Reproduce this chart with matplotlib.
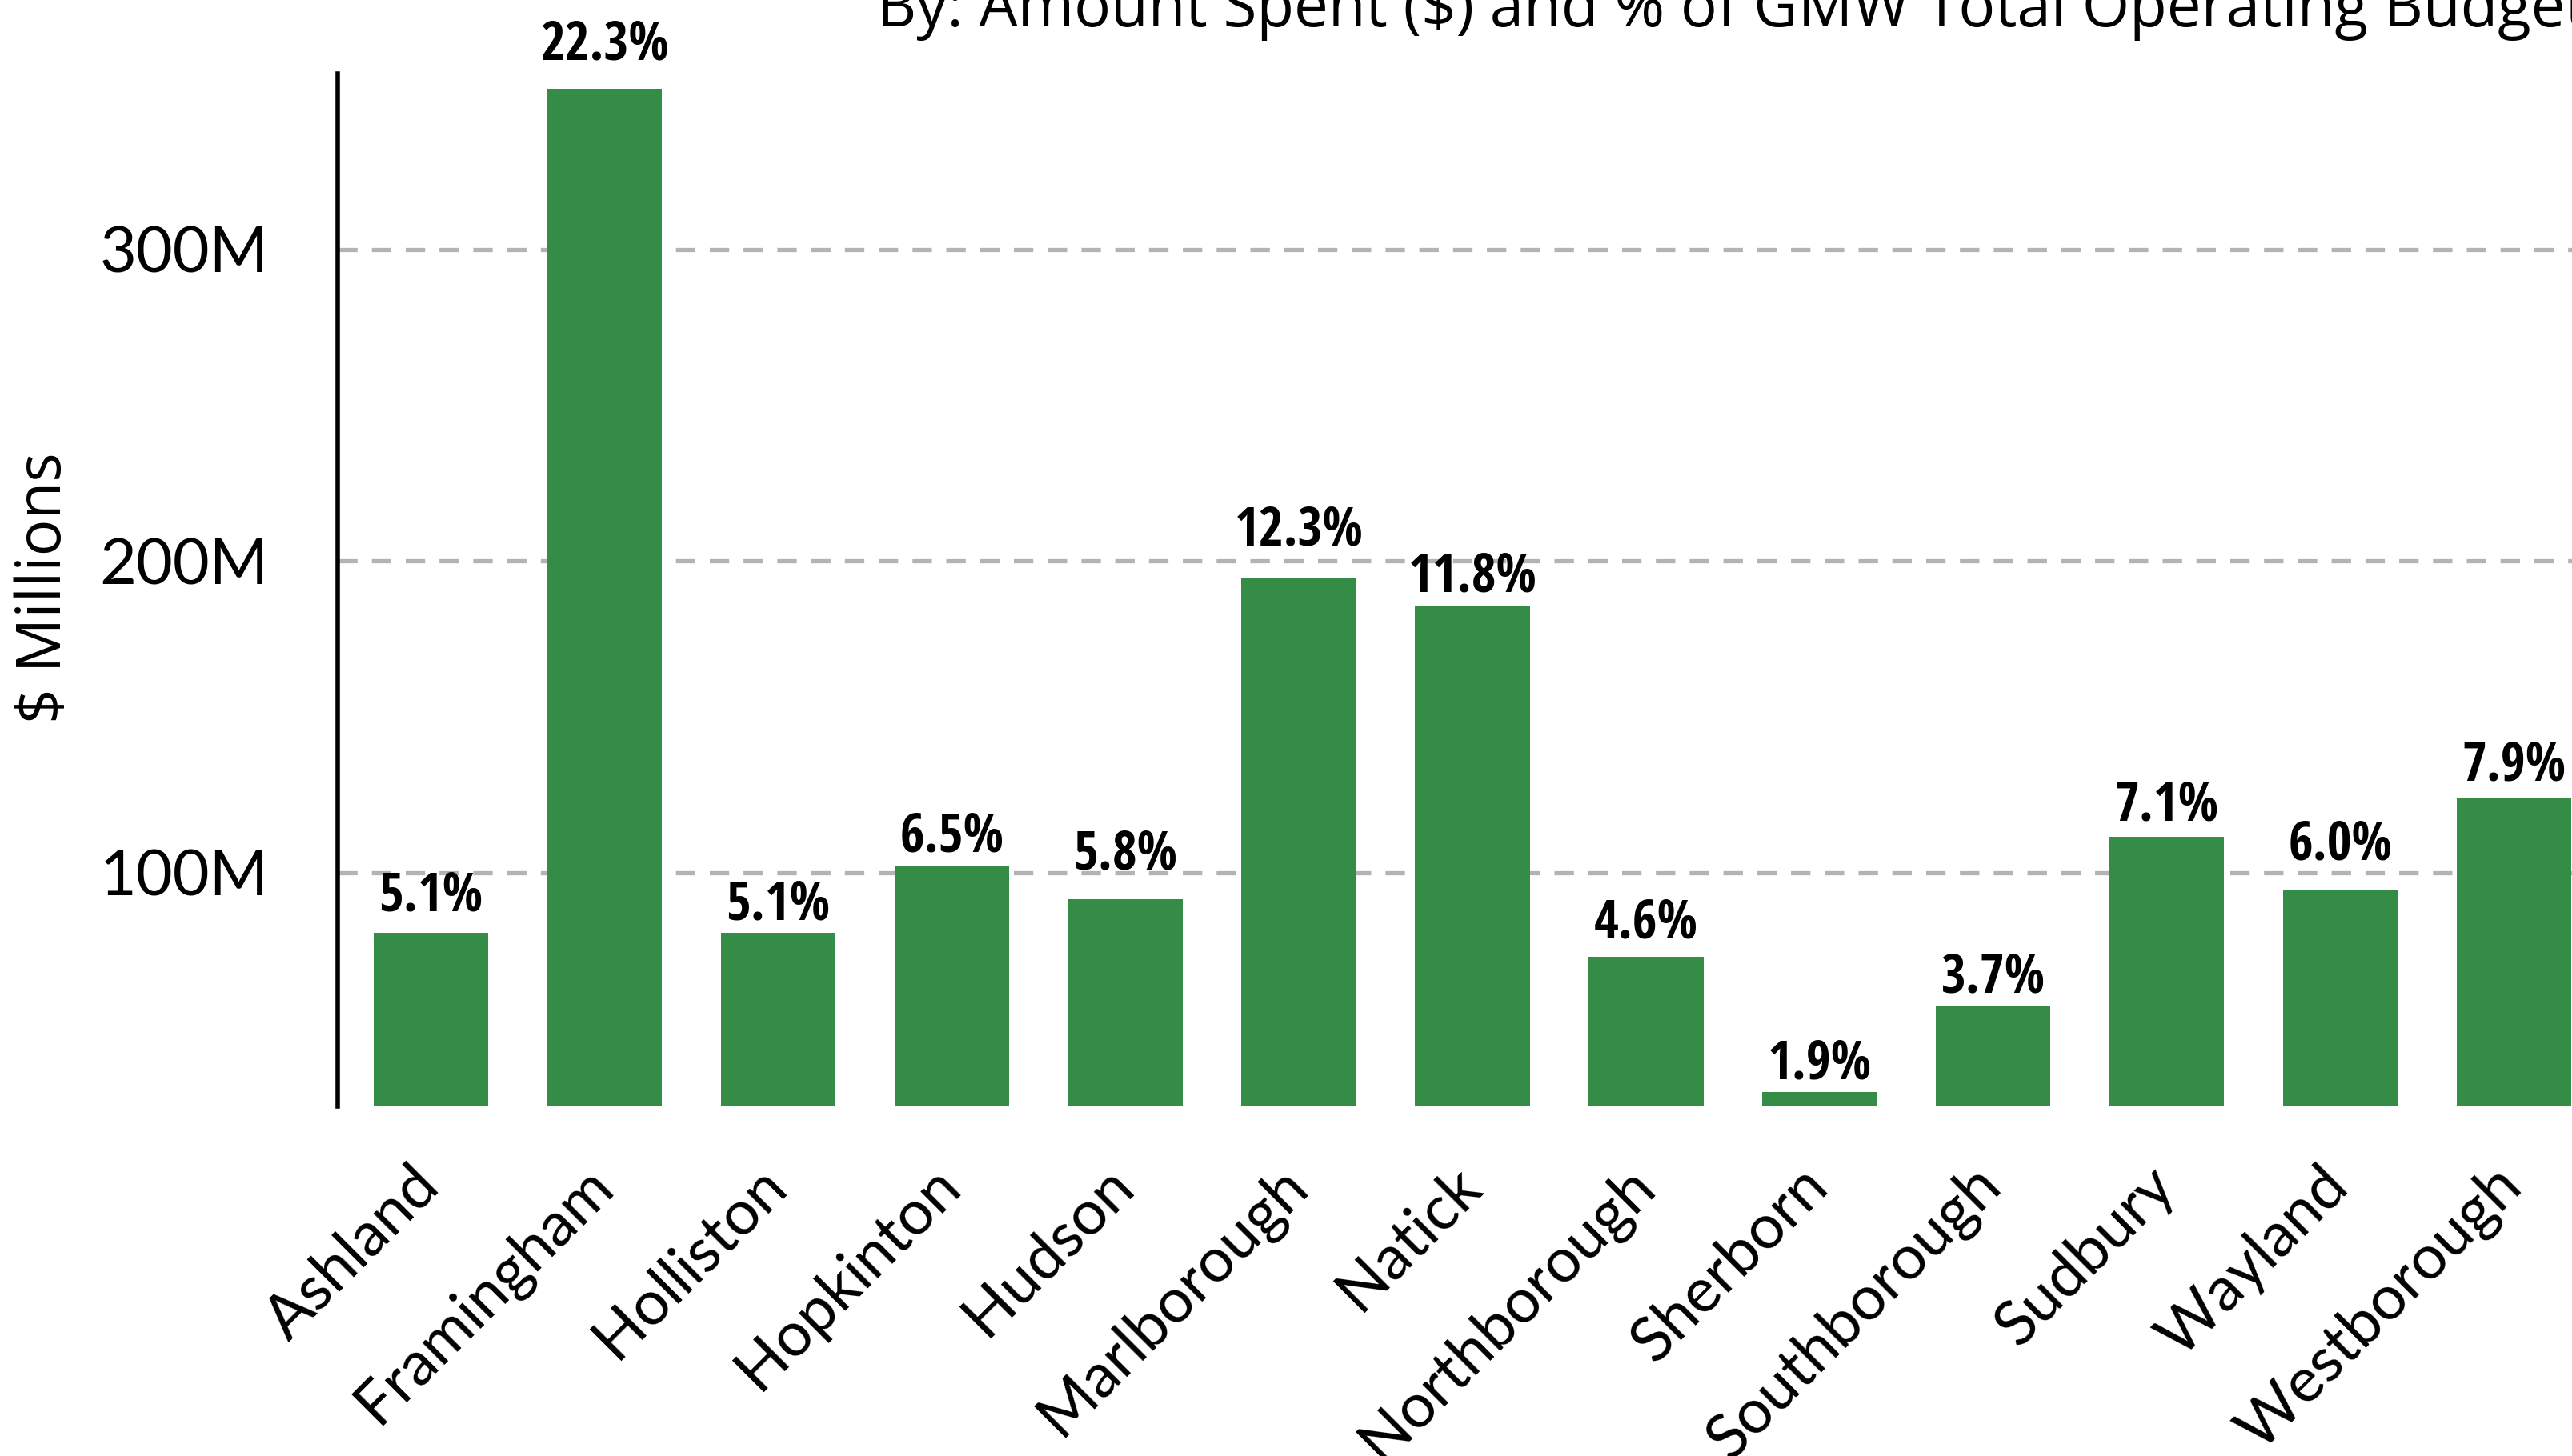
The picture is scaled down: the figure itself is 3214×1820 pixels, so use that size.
import matplotlib
matplotlib.use("Agg")
import matplotlib.pyplot as plt
from matplotlib import font_manager
from matplotlib.font_manager import FontProperties
from matplotlib.transforms import ScaledTranslation

towns = ["Ashland", "Framingham", "Holliston", "Hopkinton", "Hudson",
         "Marlborough", "Natick", "Northborough", "Sherborn", "Southborough",
         "Sudbury", "Wayland", "Westborough"]
spent_millions = [80.7, 351.5, 80.7, 102.2, 91.5, 194.8, 185.6, 72.9, 29.7,
                  57.4, 111.5, 94.6, 123.9]
pct_of_budget = [5.1, 22.3, 5.1, 6.5, 5.8, 12.3, 11.8, 4.6, 1.9, 3.7, 7.1, 6.0, 7.9]
ytick_values = [100, 200, 300]
ytick_labels = ["100M", "200M", "300M"]

# vertical nudge of each percentage label above its bar (points)
label_gap_pt = [20, 26, 12, 13, 27, 29, 13, 17, 12, 12, 15, 27, 16]

title = "By: Amount Spent ($) and % of GMW Total Operating Budget"


def pick(*names):
    avail = {f.name for f in font_manager.fontManager.ttflist}
    for n in names:
        if n in avail:
            return n
    return "DejaVu Sans"


def narrow_bold(size):
    """Bold condensed face for the value labels, narrowest available."""
    order = {"ultra-condensed": 0, "extra-condensed": 1, "condensed": 2,
             "semi-condensed": 3}
    named = {"Liberation Sans Narrow": 0, "Roboto Condensed": 1,
             "Open Sans Condensed": 1, "Arial Narrow": 0}
    best = None
    for f in font_manager.fontManager.ttflist:
        if f.style != "normal":
            continue
        w = f.weight if isinstance(f.weight, int) else (700 if f.weight == "bold" else 400)
        if w < 600 or w > 800:
            continue
        rank = None
        if f.name in named:
            rank = named[f.name]
        elif f.stretch in order:
            rank = order[f.stretch] + 1
        if rank is None:
            continue
        if best is None or rank < best[0]:
            best = (rank, f.fname)
    if best is not None:
        return FontProperties(fname=best[1], size=size)
    return FontProperties(family="DejaVu Sans", weight="bold", stretch="condensed",
                          size=size * 0.82)


body = pick("Lato", "DejaVu Sans")
title_font = pick("Open Sans", "Liberation Sans")
label_fp = narrow_bold(48)

W, H, DPI = 3214, 1820, 100
fig = plt.figure(figsize=(W / DPI, H / DPI), dpi=DPI)

ax_left, ax_right = 422, 3258
ax_top, ax_bottom = 92, 1383
ax = fig.add_axes([ax_left / W, 1 - ax_bottom / H,
                   (ax_right - ax_left) / W, (ax_bottom - ax_top) / H])

x = list(range(len(towns)))
ax.bar(x, spent_millions, width=0.66, color="#358c47", zorder=2)

ax.set_xlim(-0.537, 12.537)
ax.set_ylim(25, 356.4)

ax.set_yticks(ytick_values)
ax.set_yticklabels(ytick_labels, fontfamily=body, fontsize=57)
ax.tick_params(axis="y", length=0, pad=62)
ax.yaxis.grid(True, color="#b3b3b3", linewidth=3.8, linestyle=(0, (4.6, 3.4)),
              zorder=0)
ax.set_axisbelow(True)

ax.set_xticks(x)
ax.set_xticklabels(towns, fontfamily=body, fontsize=55.5, rotation=45,
                   ha="right", va="top", rotation_mode="anchor")
ax.tick_params(axis="x", length=0, pad=44.8)
shift = ScaledTranslation(-27 / DPI, 0, fig.dpi_scale_trans)
for lbl in ax.get_xticklabels():
    lbl.set_transform(lbl.get_transform() + shift)

for side in ("top", "right", "bottom"):
    ax.spines[side].set_visible(False)
ax.spines["left"].set_linewidth(4)
ax.spines["left"].set_color("black")

for xi, v, p, g in zip(x, spent_millions, pct_of_budget, label_gap_pt):
    ax.annotate(f"{p:.1f}%", xy=(xi, v), xytext=(0, g), textcoords="offset points",
                ha="center", va="baseline", fontproperties=label_fp,
                color="black", zorder=3)

fig.text(56 / W, 1 - 735 / H, "$ Millions", rotation=90, ha="center", va="center",
         fontsize=55, fontfamily=title_font)

fig.text(1096 / W, 1 - 33 / H, title, ha="left", va="baseline",
         fontsize=54.9, fontfamily=title_font)

fig.savefig("out.png", dpi=DPI, facecolor="white")
